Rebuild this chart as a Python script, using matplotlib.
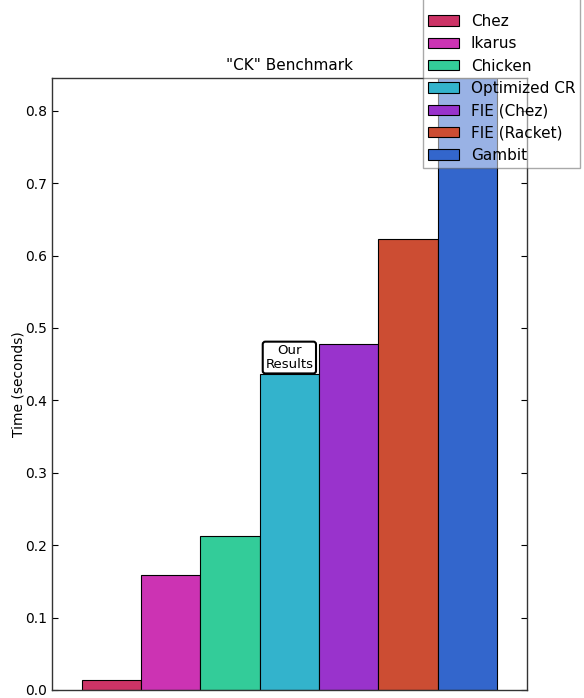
import matplotlib
matplotlib.use("Agg")
import matplotlib.pyplot as plt

# data
names = ["Chez", "Ikarus", "Chicken", "Optimized CR", "FIE (Chez)", "FIE (Racket)", "Gambit"]
times = [0.014, 0.159, 0.213, 0.437, 0.478, 0.623, 0.845]
colors = ["#cc3366", "#cc33b3", "#33cc99", "#33b3cc", "#9933cc", "#cc4d33", "#3366cc"]
ticks = [0.0, 0.1, 0.2, 0.3, 0.4, 0.5, 0.6, 0.7, 0.8]

fig = plt.figure(figsize=(5.84, 6.98), dpi=100)
ax = fig.add_axes([0.089, 0.0115, 0.813, 0.8765])

for i in range(len(names)):
	ax.bar(i, times[i], width=1.0, align="edge", color=colors[i],
	       edgecolor="black", linewidth=0.8, label=names[i])

ax.set_xlim(-0.5, len(names) + 0.5)
ax.set_ylim(0, max(times))
ax.set_yticks(ticks)
ax.set_xticks([])
ax.tick_params(axis="y", direction="in", right=True, length=4, labelsize=10)
for s in ax.spines.values():
	s.set_linewidth(1.0)
	s.set_color("#333333")

ax.set_title('"CK" Benchmark', fontsize=11)
ax.set_ylabel("Time (seconds)", fontsize=10, labelpad=0)

# label on our bar
ax.annotate("Our\nResults", xy=(3.5, times[3]), xytext=(0, 2), textcoords="offset points",
            ha="center", va="bottom", fontsize=9.5, linespacing=1.05,
            bbox=dict(boxstyle="round,pad=0.2", fc="white", ec="black", lw=1.5))

# empty tiny title just to leave some room at the top of the box
leg = fig.legend(loc="lower right", bbox_to_anchor=(0.994, 1 - 168 / 698), borderaxespad=0,
                 fontsize=11, framealpha=0.5, fancybox=False, edgecolor="#555555",
                 handlelength=2.0, handleheight=0.65, labelspacing=0.48,
                 borderpad=0.33, handletextpad=0.8, title=" ", title_fontsize=2)
leg.get_frame().set_linewidth(1.0)

fig.savefig("out.png", dpi=100)
